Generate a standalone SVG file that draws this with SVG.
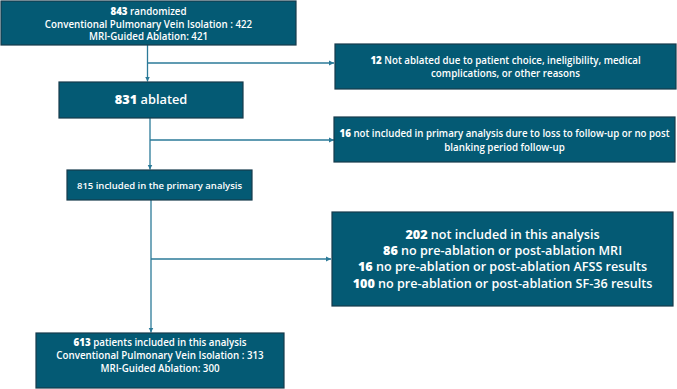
<svg xmlns="http://www.w3.org/2000/svg" width="677" height="389" viewBox="0 0 677 389">
<style>
.box{fill:#045a74;stroke:#173b4c;stroke-width:1.2}
.t{font-family:"Open Sans","Liberation Sans",sans-serif;fill:#ffffff;text-anchor:middle;font-weight:600}
.s{font-size:9.75px}
.p{font-size:9.5px}
.m{font-size:12.6px}
.l{font-size:12.8px}
.b{font-weight:800}
.c{fill:none;stroke:#2b7a98;stroke-width:1.3}
</style>
<defs>
<marker id="ah" markerWidth="6" markerHeight="6" refX="5" refY="3" orient="auto" markerUnits="userSpaceOnUse">
<path d="M0,0.5 L5,3 L0,5.5 Z" fill="#2b7a98"/>
</marker>
</defs>
<g id="connectors">
<path class="c" d="M147.5,45 V81.5" marker-end="url(#ah)"/>
<path class="c" d="M147.5,63 H334" marker-end="url(#ah)"/>
<path class="c" d="M150,118 V169.5" marker-end="url(#ah)"/>
<path class="c" d="M150,140 H334" marker-end="url(#ah)"/>
<path class="c" d="M151,200 V332.5" marker-end="url(#ah)"/>
<path class="c" d="M151,259 H331" marker-end="url(#ah)"/>
</g>
<g id="n-randomized">
<rect class="box" x="1" y="1" width="295" height="44"/>
<text class="t s" x="148.5" y="14.5"><tspan class="b">843</tspan> randomized</text>
<text class="t s" x="148.5" y="27.5">Conventional Pulmonary Vein Isolation : 422</text>
<text class="t s" x="148.5" y="40">MRI-Guided Ablation: 421</text>
</g>
<g id="n-ablated">
<rect class="box" x="59" y="82" width="184" height="36"/>
<text class="t l" x="151" y="104"><tspan class="b">831</tspan> ablated</text>
</g>
<g id="n-notablated">
<rect class="box" x="335" y="44" width="341" height="45"/>
<text class="t s" x="505.5" y="64"><tspan class="b">12</tspan> Not ablated due to patient choice, ineligibility, medical</text>
<text class="t s" x="505.5" y="77">complications, or other reasons</text>
</g>
<g id="n-notprimary">
<rect class="box" x="334" y="117" width="341" height="45"/>
<text class="t s" x="504.5" y="136.5" textLength="330" lengthAdjust="spacingAndGlyphs"><tspan class="b">16</tspan> not included in primary analysis dure to loss to follow-up or no post</text>
<text class="t s" x="504.5" y="150.5">blanking period follow-up</text>
</g>
<g id="n-primary">
<rect class="box" x="67" y="170" width="185" height="30"/>
<text class="t p" x="159.5" y="188.5">815 included in the primary analysis</text>
</g>
<g id="n-excluded">
<rect class="box" x="332" y="212" width="341" height="94"/>
<text class="t m" x="502.5" y="238.5"><tspan class="b">202</tspan> not included in this analysis</text>
<text class="t m" x="502.5" y="254.5"><tspan class="b">86</tspan> no pre-ablation or post-ablation MRI</text>
<text class="t m" x="502.5" y="271"><tspan class="b">16</tspan> no pre-ablation or post-ablation AFSS results</text>
<text class="t m" x="502.5" y="287.5"><tspan class="b">100</tspan> no pre-ablation or post-ablation SF-36 results</text>
</g>
<g id="n-final">
<rect class="box" x="36" y="333" width="248" height="55"/>
<text class="t s" x="160" y="345.5"><tspan class="b">613</tspan> patients included in this analysis</text>
<text class="t s" x="160" y="358.5">Conventional Pulmonary Vein Isolation : 313</text>
<text class="t s" x="160" y="371.5">MRI-Guided Ablation: 300</text>
</g>
</svg>
